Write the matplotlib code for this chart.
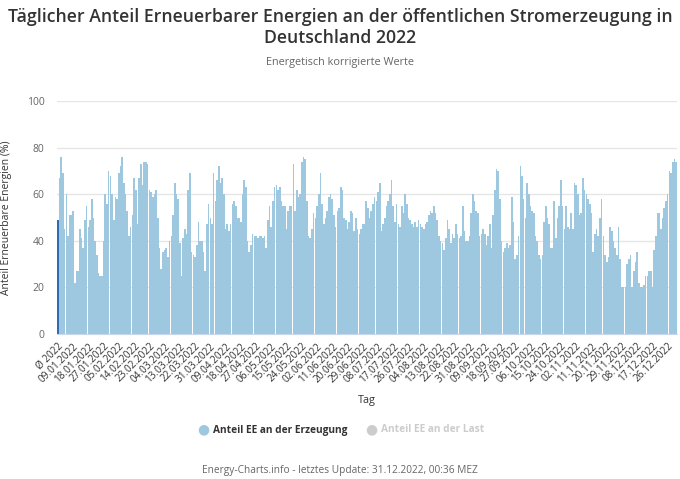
import matplotlib
matplotlib.use("Agg")
import matplotlib.pyplot as plt
import pandas as pd

plt.rcParams['font.family'] = ['Open Sans', 'DejaVu Sans']

# Durchschnitt 2022 (erster Balken "Ø 2022")
mittel_2022 = 49

# taeglicher Anteil EE an der Erzeugung in %, 01.01.2022 - 31.12.2022
anteil_erzeugung = [
    67, 76, 69, 45, 60, 42, 51, 51, 53, 22, 27, 27, 45, 41, 37, 49, 55, 46, 49, 58,
    50, 40, 34, 26, 25, 25, 40, 60, 56, 70, 68, 60, 49, 59, 58, 69, 72, 76, 65, 60,
    53, 42, 46, 51, 67, 62, 47, 67, 73, 64, 74, 74, 73, 62, 61, 59, 60, 62, 50, 37,
    28, 35, 36, 37, 33, 40, 42, 51, 65, 60, 58, 39, 25, 41, 45, 43, 62, 69, 35, 34,
    33, 38, 48, 40, 40, 35, 27, 47, 56, 50, 47, 69, 57, 66, 72, 65, 67, 60, 45, 47,
    44, 47, 56, 57, 55, 50, 50, 48, 60, 66, 63, 40, 35, 38, 43, 42, 42, 41, 42, 42,
    41, 42,
    37, 49, 55, 46, 57, 63, 64, 62, 63, 57, 55, 55, 45, 53, 55, 55, 73, 53, 62, 59,
    60, 74, 76, 75, 57, 42, 41, 45, 52, 50, 55, 60, 69, 56, 47, 50, 53, 59, 60, 58,
    51, 46, 53, 54, 63, 62, 50, 49, 45, 48, 53, 52, 44, 50, 45, 43, 45, 47, 47, 57,
    54, 50,
    53, 56, 59, 57, 61, 65, 44, 47, 50, 55, 57, 60, 66, 55, 48, 56, 47, 46, 55, 52,
    60, 56, 50, 49, 47, 46, 48, 46, 49, 47, 46, 45, 47, 48, 51, 53, 52, 55, 52, 49,
    42, 40, 39, 36, 41, 49, 45, 39, 43, 41, 47, 43, 41, 42, 55, 44, 40, 40, 42, 52,
    60, 57,
    53, 52, 42, 43, 45, 43, 38, 42, 47, 37, 51, 62, 71, 70, 58, 40, 35, 37, 39, 37,
    38, 59, 48, 32, 34, 42, 72, 68, 58, 50, 65, 60, 55, 53, 52, 42, 40, 34, 32, 34,
    48, 55, 50, 47, 37, 37, 57, 41, 50, 55, 66, 55, 45, 55, 46, 45, 52, 45, 65, 64,
    60, 51,
    52, 67, 62, 60, 58, 56, 52, 35, 43, 45, 42, 50, 58, 42, 34, 31, 33, 46, 44, 40,
    37, 34, 46, 32, 20, 20, 20, 30, 32, 34, 20, 27, 31, 35, 22, 20, 20, 21, 25, 25,
    27, 27, 20, 36, 42, 52, 52, 45, 50, 54, 57, 60, 70, 69, 74, 75, 74,
]

tage = list(pd.date_range("2022-01-01", "2022-12-31").strftime("%d.%m.%Y"))
kategorien = ["Ø 2022"] + tage
werte = [mittel_2022] + anteil_erzeugung

hell = '#9ec8df'
dunkel = '#2d6db4'

fig = plt.figure(figsize=(6.8, 4.79), dpi=100)
ax = fig.add_axes([57 / 680, 1 - 334 / 479, 620 / 680, 233 / 479])

farben = [dunkel] + [hell] * len(anteil_erzeugung)
ax.bar(range(len(werte)), werte, width=0.95, color=farben, linewidth=0)

ax.set_xlim(-0.5, len(werte) - 0.5)
ax.set_ylim(0, 100)
ax.set_yticks(range(0, 101, 20))
ax.yaxis.grid(True, color='#e6e6e6', linewidth=1)
ax.set_axisbelow(True)
for s in ['top', 'right', 'left']:
    ax.spines[s].set_visible(False)
ax.spines['bottom'].set_color('#ccd6eb')
ax.tick_params(axis='y', length=0, labelsize=7.5, labelcolor='#666666', pad=9)

pos = list(range(0, len(werte), 9))
ax.set_xticks(pos)
ax.set_xticklabels([kategorien[p] for p in pos], rotation=45, ha='right',
                   va='top', rotation_mode='anchor', fontsize=7.2, color='#333333')
ax.tick_params(axis='x', length=0, pad=5)

ax.set_ylabel('Anteil Erneuerbare Energien (%)', fontsize=7.5, color='#333333', labelpad=7)
ax.set_xlabel('Tag', fontsize=7.8, color='#333333', labelpad=7)
ax.yaxis.set_label_coords(-57 / 620 + 12 / 620, 0.5)

fig.text(0.5, 1 - 17 / 479, 'Täglicher Anteil Erneuerbarer Energien an der öffentlichen Stromerzeugung in',
         ha='center', va='center', fontsize=12.7, color='#333333', fontweight='semibold')
fig.text(0.5, 1 - 38 / 479, 'Deutschland 2022',
         ha='center', va='center', fontsize=12.7, color='#333333', fontweight='semibold')
fig.text(0.5, 1 - 63 / 479, 'Energetisch korrigierte Werte',
         ha='center', va='center', fontsize=7.8, color='#666666')

# Legende
fig.text(203 / 680, 1 - 430 / 479, '●', ha='center', va='center', fontsize=10, color=hell)
fig.text(213 / 680, 1 - 430 / 479, 'Anteil EE an der Erzeugung', ha='left', va='center',
         fontsize=7.3, color='#333333', fontweight='bold')
fig.text(371 / 680, 1 - 430 / 479, '●', ha='center', va='center', fontsize=10, color='#cccccc')
fig.text(381 / 680, 1 - 430 / 479, 'Anteil EE an der Last', ha='left', va='center',
         fontsize=7.3, color='#cccccc', fontweight='bold')

fig.text(0.5, 1 - 470 / 479, 'Energy-Charts.info - letztes Update: 31.12.2022, 00:36 MEZ',
         ha='center', va='center', fontsize=7.3, color='#666666')

fig.savefig('out.png', dpi=100)
